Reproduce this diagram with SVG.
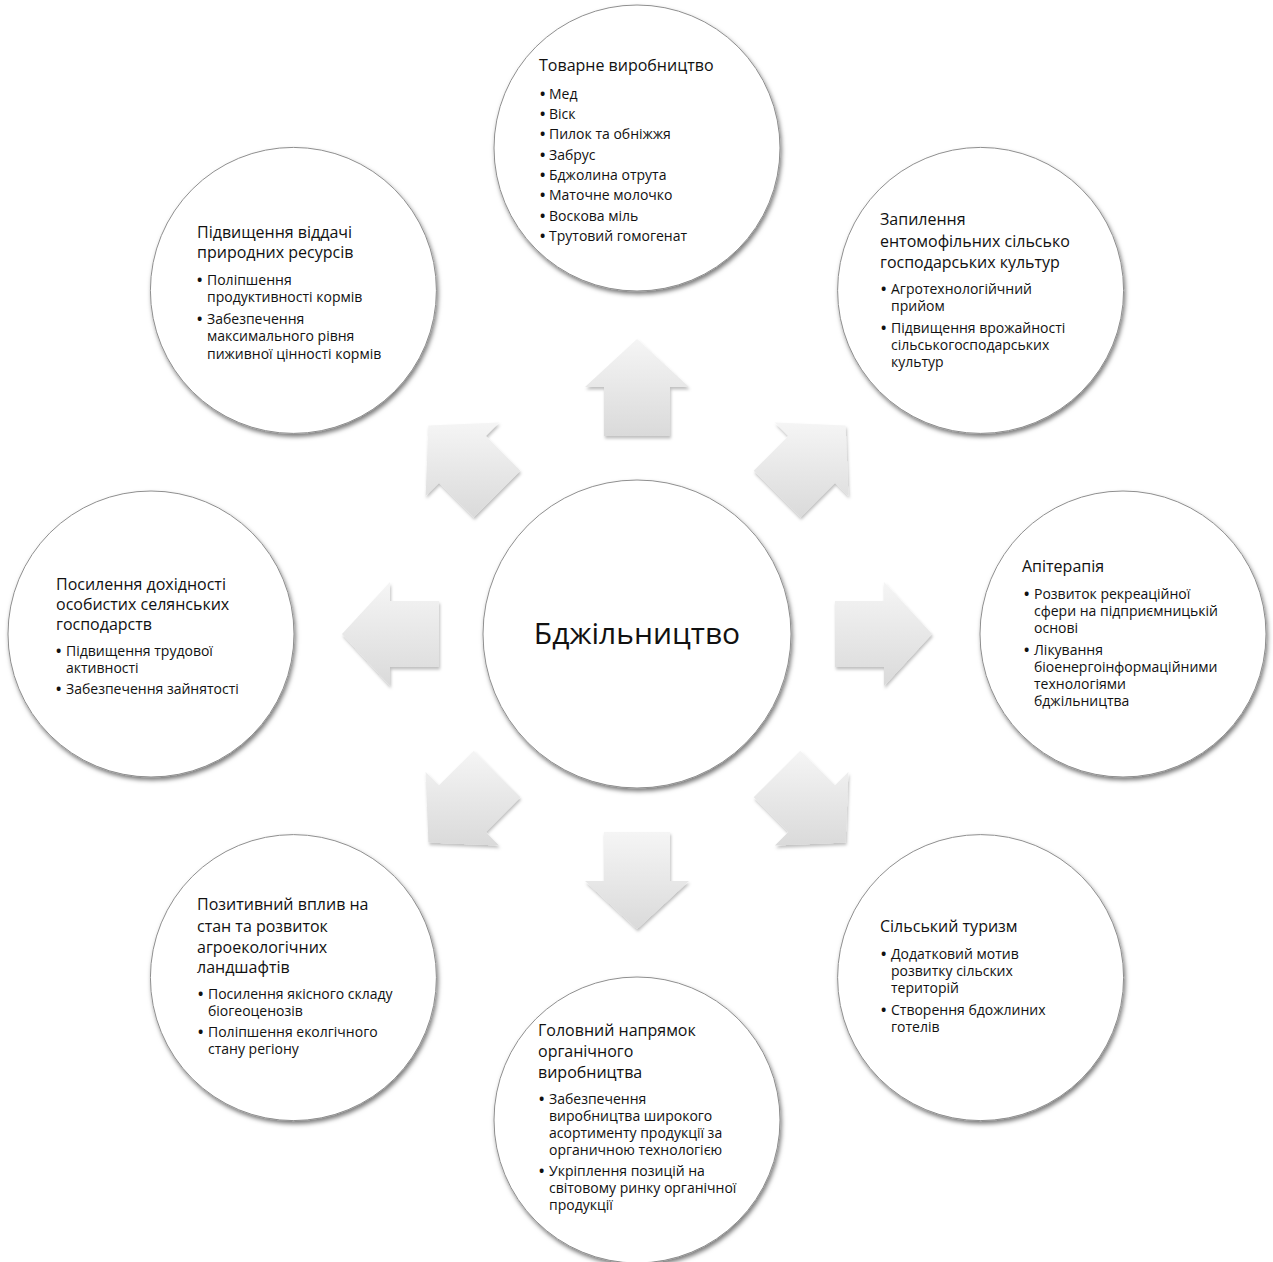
<svg xmlns="http://www.w3.org/2000/svg" width="1273" height="1262" viewBox="0 0 1273 1262">
<defs>
<linearGradient id="ag" x1="0" y1="0" x2="0" y2="1">
<stop offset="0" stop-color="#f5f5f5"/>
<stop offset="1" stop-color="#dadada"/>
</linearGradient>
<filter id="cs" x="-10%" y="-10%" width="125%" height="125%">
<feDropShadow dx="1.5" dy="3" stdDeviation="2" flood-color="#000" flood-opacity="0.5"/>
</filter>
<filter id="as" x="-15%" y="-15%" width="135%" height="135%">
<feDropShadow dx="1" dy="2.5" stdDeviation="1.8" flood-color="#000" flood-opacity="0.25"/>
</filter>
</defs>
<style>
.c{fill:#fff;stroke:#8f8f8f;stroke-width:1;filter:url(#cs)}
.a{fill:url(#ag);filter:url(#as)}
text{font-family:"Open Sans","Liberation Sans",sans-serif;fill:#111}
.h{font-size:16px}
.b{font-size:14px}
.d{font-weight:bold}
.m{font-size:30px}
</style>
<rect width="1273" height="1262" fill="#fff"/>
<g id="connectors">
<polygon class="a" points="637,339 689,387 670,387 670,436 604,436 604,387 585,387"/>
<polygon class="a" points="845.6,425.4 848.4,496.1 835,482.7 800.3,517.3 753.7,470.7 788.3,436 774.9,422.6"/>
<polygon class="a" points="932,634 884,686 884,667 835,667 835,601 884,601 884,582"/>
<polygon class="a" points="845.6,842.6 848.4,771.9 835,785.3 800.3,750.7 753.7,797.3 788.3,832 774.9,845.4"/>
<polygon class="a" points="637,929 689,881 670,881 670,832 604,832 604,881 585,881"/>
<polygon class="a" points="428.4,842.6 425.6,771.9 439,785.3 473.7,750.7 520.3,797.3 485.7,832 499.1,845.4"/>
<polygon class="a" points="342,634 390,686 390,667 439,667 439,601 390,601 390,582"/>
<polygon class="a" points="428.4,425.4 425.6,496.1 439,482.7 473.7,517.3 520.3,470.7 485.7,436 499.1,422.6"/>
</g>
<g id="center">
<circle class="c" cx="637" cy="634" r="154"/>
<text class="m" x="637" y="644" text-anchor="middle">Бджільництво</text>
</g>
<g id="n-top">
<circle class="c" cx="637" cy="148" r="143"/>
<text class="h" x="539" y="71">Товарне виробництво</text>
<g class="b">
<text class="d" x="540" y="99">•</text><text x="549" y="99">Мед</text>
<text class="d" x="540" y="119">•</text><text x="549" y="119">Віск</text>
<text class="d" x="540" y="139">•</text><text x="549" y="139">Пилок та обніжжя</text>
<text class="d" x="540" y="160">•</text><text x="549" y="160">Забрус</text>
<text class="d" x="540" y="180">•</text><text x="549" y="180">Бджолина отрута</text>
<text class="d" x="540" y="200">•</text><text x="549" y="200">Маточне молочко</text>
<text class="d" x="540" y="221">•</text><text x="549" y="221">Воскова міль</text>
<text class="d" x="540" y="241">•</text><text x="549" y="241">Трутовий гомогенат</text>
</g>
</g>
<g id="n-topright">
<circle class="c" cx="980.6" cy="290.4" r="143"/>
<text class="h" x="880" y="225">Запилення</text>
<text class="h" x="880" y="246.5">ентомофільних сільсько</text>
<text class="h" x="880" y="267.5">господарських культур</text>
<g class="b">
<text class="d" x="881" y="294">•</text><text x="891" y="294">Агротехнологійчний</text>
<text x="891" y="311">прийом</text>
<text class="d" x="881" y="333">•</text><text x="891" y="333">Підвищення врожайності</text>
<text x="891" y="350">сільськогосподарських</text>
<text x="891" y="367">культур</text>
</g>
</g>
<g id="n-right">
<circle class="c" cx="1123" cy="634" r="143"/>
<text class="h" x="1022" y="572">Апітерапія</text>
<g class="b">
<text class="d" x="1024" y="599">•</text><text x="1034" y="599">Розвиток рекреаційної</text>
<text x="1034" y="616">сфери на підприємницькій</text>
<text x="1034" y="633">основі</text>
<text class="d" x="1024" y="655">•</text><text x="1034" y="655">Лікування</text>
<text x="1034" y="672">біоенергоінформаційними</text>
<text x="1034" y="689">технологіями</text>
<text x="1034" y="706">бджільництва</text>
</g>
</g>
<g id="n-bottomright">
<circle class="c" cx="980.6" cy="977.6" r="143"/>
<text class="h" x="880" y="932">Сільський туризм</text>
<g class="b">
<text class="d" x="881" y="959">•</text><text x="891" y="959">Додатковий мотив</text>
<text x="891" y="976">розвитку сільских</text>
<text x="891" y="993">територій</text>
<text class="d" x="881" y="1014.5">•</text><text x="891" y="1014.5">Створення бдожлиних</text>
<text x="891" y="1031.5">готелів</text>
</g>
</g>
<g id="n-bottom">
<circle class="c" cx="637" cy="1120" r="143"/>
<text class="h" x="538" y="1036">Головний напрямок</text>
<text class="h" x="538" y="1057">органічного</text>
<text class="h" x="538" y="1077.5">виробництва</text>
<g class="b">
<text class="d" x="539" y="1103.5">•</text><text x="549" y="1103.5">Забезпечення</text>
<text x="549" y="1120.5">виробництва широкого</text>
<text x="549" y="1137.5">асортименту продукції за</text>
<text x="549" y="1154.5">органичною технологією</text>
<text class="d" x="539" y="1176">•</text><text x="549" y="1176">Укріплення позицій на</text>
<text x="549" y="1193">світовому ринку органічної</text>
<text x="549" y="1210">продукції</text>
</g>
</g>
<g id="n-bottomleft">
<circle class="c" cx="293.4" cy="977.6" r="143"/>
<text class="h" x="197" y="910">Позитивний вплив на</text>
<text class="h" x="197" y="931.5">стан та розвиток</text>
<text class="h" x="197" y="952.5">агроекологічних</text>
<text class="h" x="197" y="973">ландшафтів</text>
<g class="b">
<text class="d" x="198" y="999">•</text><text x="208" y="999">Посилення якісного складу</text>
<text x="208" y="1016">біогеоценозів</text>
<text class="d" x="198" y="1037">•</text><text x="208" y="1037">Поліпшення еколгічного</text>
<text x="208" y="1054">стану регіону</text>
</g>
</g>
<g id="n-left">
<circle class="c" cx="151" cy="634" r="143"/>
<text class="h" x="56" y="589.5">Посилення дохідності</text>
<text class="h" x="56" y="609.5">особистих селянських</text>
<text class="h" x="56" y="629.5">господарств</text>
<g class="b">
<text class="d" x="56" y="655.5">•</text><text x="66" y="655.5">Підвищення трудової</text>
<text x="66" y="672.5">активності</text>
<text class="d" x="56" y="693.5">•</text><text x="66" y="693.5">Забезпечення зайнятості</text>
</g>
</g>
<g id="n-topleft">
<circle class="c" cx="293.4" cy="290.4" r="143"/>
<text class="h" x="197" y="237.5">Підвищення віддачі</text>
<text class="h" x="197" y="258">природних ресурсів</text>
<g class="b">
<text class="d" x="197" y="285">•</text><text x="207" y="285">Поліпшення</text>
<text x="207" y="302">продуктивності кормів</text>
<text class="d" x="197" y="323.5">•</text><text x="207" y="323.5">Забезпечення</text>
<text x="207" y="341">максимального рівня</text>
<text x="207" y="358.5">пиживної цінності кормів</text>
</g>
</g>
</svg>
